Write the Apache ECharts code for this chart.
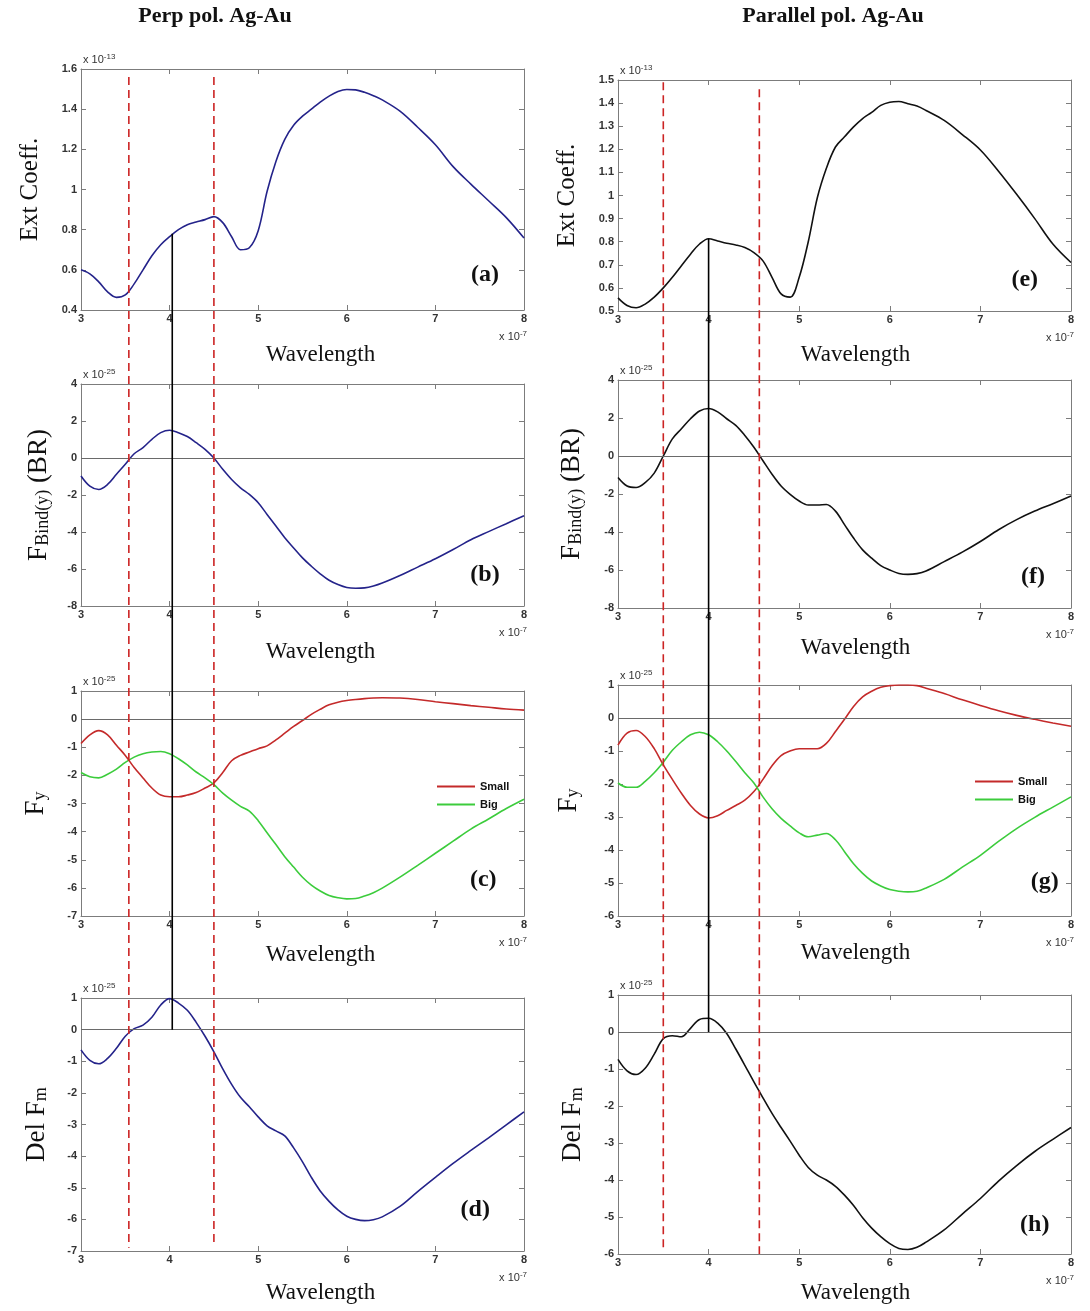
<!DOCTYPE html>
<html><head><meta charset="utf-8">
<script src="https://cdn.jsdelivr.net/npm/echarts@6/dist/echarts.min.js"></script>
<style>html,body{margin:0;padding:0;background:#fff}#c{width:1090px;height:1311px}</style>
</head><body><div id="c"></div>
<script>
// ---------------- DATA (wavelength in units of 1e-7 m) ----------------
const WL = [3.0,3.1,3.2,3.3,3.4,3.5,3.6,3.7,3.8,3.9,4.0,4.1,4.2,4.3,4.4,4.5,4.6,4.7,4.8,4.9,
            5.0,5.1,5.2,5.3,5.4,5.5,5.6,5.7,5.8,5.9,6.0,6.1,6.2,6.3,6.4,6.6,6.8,7.0,7.2,7.4,7.6,7.8,8.0];
// (a) Ext Coeff, perpendicular (x 1e-13)
const extPerp = [0.60,0.58,0.54,0.49,0.463,0.475,0.53,0.60,0.67,0.725,0.765,0.80,0.825,0.838,0.85,0.865,0.835,0.765,0.70,0.71,
                 0.795,0.99,1.14,1.25,1.32,1.365,1.40,1.435,1.465,1.488,1.498,1.496,1.484,1.467,1.446,1.39,1.31,1.223,1.114,1.027,0.944,0.86,0.758];
// (e) Ext Coeff, parallel (x 1e-13)
const extPar = [0.557,0.524,0.514,0.53,0.56,0.60,0.646,0.696,0.746,0.79,0.813,0.803,0.793,0.786,0.775,0.753,0.717,0.646,0.574,0.56,
                0.646,0.80,0.99,1.118,1.21,1.254,1.297,1.333,1.36,1.39,1.404,1.407,1.397,1.387,1.368,1.325,1.264,1.197,1.105,1.005,0.90,0.79,0.71];
// (b) F_Bind(y), perpendicular (x 1e-25)
const bindPerp = [-0.97,-1.52,-1.70,-1.43,-0.88,-0.34,0.23,0.56,1.01,1.37,1.50,1.37,1.16,0.83,0.47,0.0,-0.61,-1.16,-1.61,-1.97,
                  -2.42,-3.05,-3.68,-4.31,-4.86,-5.40,-5.85,-6.26,-6.61,-6.84,-7.0,-7.04,-7.02,-6.92,-6.76,-6.35,-5.9,-5.45,-4.95,-4.42,-3.98,-3.55,-3.12];
// (f) F_Bind(y), parallel (x 1e-25)
const bindPar = [-1.13,-1.58,-1.66,-1.40,-0.90,0.0,0.90,1.43,1.96,2.37,2.50,2.32,1.96,1.61,1.08,0.46,-0.25,-0.96,-1.58,-2.02,
                 -2.37,-2.58,-2.58,-2.55,-2.90,-3.61,-4.32,-4.94,-5.38,-5.77,-6.00,-6.18,-6.23,-6.19,-6.05,-5.56,-5.06,-4.50,-3.88,-3.35,-2.90,-2.51,-2.11];
// (c) F_y perpendicular: Small / Big (x 1e-25)
const smallPerp = [-0.87,-0.56,-0.41,-0.56,-0.93,-1.29,-1.72,-2.09,-2.45,-2.70,-2.76,-2.76,-2.70,-2.61,-2.45,-2.27,-1.90,-1.48,-1.29,-1.17,
                   -1.05,-0.95,-0.74,-0.50,-0.26,-0.05,0.17,0.35,0.51,0.60,0.66,0.70,0.73,0.75,0.76,0.75,0.70,0.62,0.55,0.48,0.42,0.36,0.32];
const bigPerp = [-1.90,-2.05,-2.09,-1.96,-1.78,-1.54,-1.35,-1.23,-1.17,-1.15,-1.23,-1.41,-1.63,-1.88,-2.09,-2.33,-2.63,-2.88,-3.10,-3.27,
                 -3.61,-4.04,-4.46,-4.89,-5.26,-5.62,-5.90,-6.11,-6.27,-6.35,-6.39,-6.38,-6.29,-6.17,-6.01,-5.62,-5.20,-4.77,-4.34,-3.91,-3.55,-3.18,-2.85];
// (g) F_y parallel: Small / Big (x 1e-25)
const smallPar = [-0.82,-0.46,-0.38,-0.56,-0.93,-1.42,-1.86,-2.28,-2.65,-2.91,-3.03,-2.96,-2.80,-2.65,-2.49,-2.23,-1.86,-1.45,-1.14,-1.00,
                  -0.93,-0.93,-0.93,-0.77,-0.41,-0.04,0.35,0.64,0.81,0.93,0.98,1.0,1.0,0.98,0.90,0.74,0.55,0.38,0.22,0.08,-0.04,-0.15,-0.25];
const bigPar = [-1.97,-2.10,-2.10,-1.92,-1.66,-1.34,-0.98,-0.72,-0.51,-0.43,-0.51,-0.72,-1.00,-1.32,-1.66,-1.97,-2.39,-2.75,-3.04,-3.27,
                -3.48,-3.60,-3.55,-3.50,-3.69,-4.05,-4.42,-4.71,-4.94,-5.09,-5.20,-5.25,-5.27,-5.25,-5.15,-4.89,-4.52,-4.16,-3.74,-3.35,-3.01,-2.70,-2.39];
// (d) Del F_m perpendicular (x 1e-25)
const delPerp = [-0.64,-0.97,-1.08,-0.91,-0.59,-0.21,0.03,0.14,0.39,0.78,0.98,0.84,0.61,0.23,-0.21,-0.70,-1.24,-1.73,-2.14,-2.44,
                 -2.76,-3.04,-3.20,-3.36,-3.74,-4.18,-4.67,-5.10,-5.43,-5.70,-5.90,-6.00,-6.04,-6.01,-5.92,-5.59,-5.12,-4.67,-4.23,-3.82,-3.42,-3.01,-2.60];
// (h) Del F_m parallel (x 1e-25)
const delPar = [-0.74,-1.05,-1.15,-0.98,-0.60,-0.18,-0.10,-0.13,0.10,0.34,0.37,0.24,-0.04,-0.46,-0.90,-1.35,-1.78,-2.20,-2.58,-2.95,
                -3.33,-3.66,-3.87,-4.00,-4.17,-4.41,-4.69,-5.02,-5.30,-5.53,-5.72,-5.85,-5.88,-5.82,-5.68,-5.35,-4.92,-4.50,-4.03,-3.61,-3.23,-2.90,-2.58];
// axis ranges [min, max, interval]
const yRanges = [[0.4,1.6,0.2],[-8,4,2],[-7,1,1],[-7,1,1],[0.5,1.5,0.1],[-8,4,2],[-6,1,1],[-6,1,1]];
const yExp = ['-13','-25','-25','-25','-13','-25','-25','-25'];
const panelLetters = ['(a)','(b)','(c)','(d)','(e)','(f)','(g)','(h)'];
const letterPos = [[7.56,0.574],[7.56,-6.32],[7.54,-5.73],[7.45,-5.71],[7.49,0.634],[7.58,-6.37],[7.71,-4.97],[7.60,-5.22]];
const titles = ['Perp pol. Ag-Au','Parallel pol. Ag-Au'];
const legendNames = ['Small','Big'];
// marker lines: [x, y start (top panel), y end (bottom panel)]
const dashPerp = [[3.54,1.56,-6.9],[4.5,1.56,-6.85]];
const dashPar = [[3.5,1.49,-5.87],[4.56,1.46,-6.0]];
const solidPerp = [4.03,0.78,0];
const solidPar = [4.0,0.813,0];

// ---------------- LAYOUT ----------------
const grids = [
  {left:81, top:69,  width:443, height:241},
  {left:81, top:384, width:443, height:222},
  {left:81, top:691, width:443, height:225},
  {left:81, top:998, width:443, height:253},
  {left:618,top:80,  width:453, height:231},
  {left:618,top:380, width:453, height:228},
  {left:618,top:685, width:453, height:231},
  {left:618,top:995, width:453, height:259}
];
const yNames = ['Ext Coeff.','{b|F}{s|Bind(y)}{b| (BR)}','{b|F}{s|y}','{b|Del F}{s|m}',
                'Ext Coeff.','{b|F}{s|Bind(y)}{b| (BR)}','{b|F}{s|y}','{b|Del F}{s|m}'];
const yNameGaps = [38,29,32,31,38,33,36,32];
const xNameGaps = [33,34,27,30,32,28,25,27];
const AX = '#7c7c7c';
const SERIF = 'Liberation Serif';
const SANS = 'Liberation Sans';
const fmt = v => String(Number(v.toFixed(2)));

const xAxis = [], yAxis = [];
grids.forEach((g,i) => {
  const r = yRanges[i];
  const line = {onZero:false, lineStyle:{color:AX, width:1}};
  const tick = {inside:true, length:5, lineStyle:{color:AX}};
  xAxis.push({gridIndex:i, type:'value', min:3, max:8, interval:1, position:'bottom',
    axisLine:line, axisTick:tick, splitLine:{show:false},
    axisLabel:{color:'#333', fontSize:11, fontWeight:'bold', fontFamily:SANS, margin:3, formatter:v=>String(v)},
    name:'Wavelength', nameLocation:'middle', nameGap:xNameGaps[i],
    nameTextStyle:{fontFamily:SERIF, fontSize:23, color:'#111', padding:[0,0,0, i<4?36:22]}});
  xAxis.push({gridIndex:i, type:'value', min:3, max:8, interval:1, position:'top',
    axisLine:line, axisTick:tick, splitLine:{show:false}, axisLabel:{show:false}});
  yAxis.push({gridIndex:i, type:'value', min:r[0], max:r[1], interval:r[2], position:'left',
    axisLine:line, axisTick:tick, splitLine:{show:false},
    axisLabel:{color:'#333', fontSize:11, fontWeight:'bold', fontFamily:SANS, margin:4, formatter:fmt},
    name:yNames[i], nameLocation:'middle', nameGap:yNameGaps[i],
    nameTextStyle:{fontFamily:SERIF, fontSize:25, color:'#111',
      rich:{b:{fontFamily:SERIF, fontSize:27, color:'#111'}, s:{fontFamily:SERIF, fontSize:18, color:'#111', verticalAlign:'bottom'}}}});
  yAxis.push({gridIndex:i, type:'value', min:r[0], max:r[1], interval:r[2], position:'right',
    axisLine:line, axisTick:tick, splitLine:{show:false}, axisLabel:{show:false}});
});

const pairs = ys => WL.map((x,k)=>[x, ys[k]]);
const zeroLine = {silent:true, symbol:'none', label:{show:false},
  lineStyle:{color:'#6a6a6a', width:1, type:'solid'}, data:[{yAxis:0}]};
function mk(name, gi, ys, color, zero){
  const s = {name, type:'line', xAxisIndex:2*gi, yAxisIndex:2*gi, data:pairs(ys),
    showSymbol:false, smooth:0.35, lineStyle:{color, width:1.6}, itemStyle:{color}, z:3};
  if (zero) s.markLine = zeroLine;
  return s;
}
const NAVY = '#24238a', BLK = '#111111', RED = '#c42a2a', GRN = '#3ccc3c';
const series = [
  mk('extPerp',0,extPerp,NAVY,false),
  mk('bindPerp',1,bindPerp,NAVY,true),
  mk('Small',2,smallPerp,RED,true),
  mk('Big',2,bigPerp,GRN,false),
  mk('delPerp',3,delPerp,NAVY,true),
  mk('extPar',4,extPar,BLK,false),
  mk('bindPar',5,bindPar,BLK,true),
  mk('Small',6,smallPar,RED,true),
  mk('Big',6,bigPar,GRN,false),
  mk('delPar',7,delPar,BLK,true)
];

const legendStyle = {data:legendNames, orient:'vertical', itemWidth:38, itemHeight:2, itemGap:7, icon:'rect',
  textStyle:{fontSize:11, fontFamily:SANS, color:'#111', fontWeight:'bold'}, selectedMode:false};

const chart = echarts.init(document.getElementById('c'), null, {renderer:'canvas'});
chart.setOption({
  animation:false,
  backgroundColor:'#fff',
  grid: grids.map(g => Object.assign({outerBoundsMode:'none', containLabel:false}, g)),
  xAxis, yAxis, series,
  legend:[Object.assign({left:432, top:776}, legendStyle), Object.assign({left:970, top:771}, legendStyle)]
});

// ---------------- ANNOTATIONS via the chart's own scales ----------------
const P = (g,x,y) => chart.convertToPixel({gridIndex:g}, [x,y]);
const gfx = [];
function vline(gTop, gBot, spec, color, dash){
  const a = P(gTop, spec[0], spec[1]), b = P(gBot, spec[0], spec[2]);
  gfx.push({type:'line', z:50, silent:true, shape:{x1:a[0], y1:a[1], x2:b[0], y2:b[1]},
    style:{stroke:color, lineWidth:1.6, lineDash:dash}});
}
dashPerp.forEach(d => vline(0,3,d,'#cc2424',[8,5]));
dashPar.forEach(d => vline(4,7,d,'#cc2424',[8,5]));
vline(0,3,solidPerp,'#000',null);
vline(4,7,solidPar,'#000',null);

grids.forEach((g,i) => {
  const r = yRanges[i];
  const tl = P(i,3,r[1]);
  gfx.push({type:'text', z:60, silent:true, x:tl[0]+2, y:tl[1]-2,
    style:{text:'{a|x 10}{s|'+yExp[i]+'}', align:'left', verticalAlign:'bottom', textAlign:'left', textVerticalAlign:'bottom',
      rich:{a:{fontSize:11, fontFamily:SANS, fill:'#333', color:'#333'}, s:{fontSize:8, fontFamily:SANS, fill:'#333', color:'#333', verticalAlign:'top', padding:[0,0,6,0]}}}});
  const br = P(i,8,r[0]);
  gfx.push({type:'text', z:60, silent:true, x:br[0]+3, y:br[1]+27,
    style:{text:'{a|x 10}{s|-7}', align:'right', verticalAlign:'middle', textAlign:'right', textVerticalAlign:'middle',
      rich:{a:{fontSize:11, fontFamily:SANS, fill:'#333', color:'#333'}, s:{fontSize:8, fontFamily:SANS, fill:'#333', color:'#333', verticalAlign:'top', padding:[0,0,6,0]}}}});
  const lp = P(i, letterPos[i][0], letterPos[i][1]);
  gfx.push({type:'text', z:60, silent:true, x:lp[0], y:lp[1],
    style:{text:panelLetters[i], font:'bold 24px "Liberation Serif"', fill:'#111', align:'center', verticalAlign:'middle', textAlign:'center', textVerticalAlign:'middle'}});
});
gfx.push({type:'text', x:215, y:16, style:{text:titles[0], font:'bold 22px "Liberation Serif"', fill:'#111', align:'center', verticalAlign:'middle', textAlign:'center', textVerticalAlign:'middle'}});
gfx.push({type:'text', x:833, y:16, style:{text:titles[1], font:'bold 22px "Liberation Serif"', fill:'#111', align:'center', verticalAlign:'middle', textAlign:'center', textVerticalAlign:'middle'}});
chart.setOption({graphic:gfx});
</script>
</body></html>
